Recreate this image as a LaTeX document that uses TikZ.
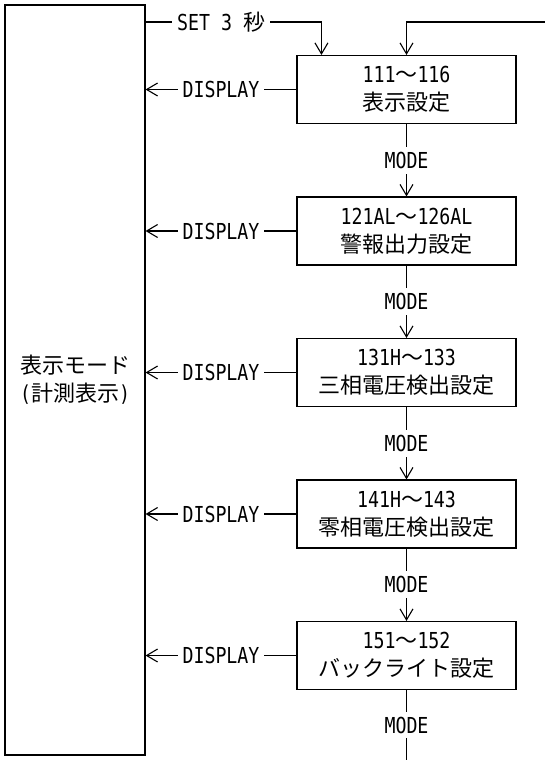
\documentclass[tikz,border=0pt]{standalone}
\usepackage{fontspec}
\setmainfont{DejaVu Sans Mono}[FakeStretch=0.83]
\newfontfamily\jpfont{Noto Sans CJK JP}
\newcommand{\ja}[1]{{\jpfont #1}}
\usetikzlibrary{positioning,chains,arrows.meta}

\begin{document}
\begin{tikzpicture}[%
    x=1pt, y=1pt,
    >={Straight Barb[length=11pt,width=13pt]}, % open V arrows
    start chain=going below,    % setting boxes run top-to-bottom
    node distance=141.5pt,      % box centre to box centre
    font=\fontsize{22}{28}\selectfont,
    line width=1.1pt,
    ]
\tikzset{
  base/.style={draw, on grid, on chain, align=center},
  setbox/.style={base, rectangle, minimum width=219pt, minimum height=68pt, inner sep=0pt},
  modebox/.style={draw, rectangle, minimum width=140pt, minimum height=750pt, align=center},
  lbl/.style={fill=white, inner sep=5pt},
}

\useasboundingbox (0,0) rectangle (545,-760);

\node [modebox] (disp) at (75,-380) {\ja{表示モード}\\(\ja{計測表示})};

\node [setbox] (s1) at (406.5,-89.5) {111\ja{～}116\\\ja{表示設定}};
\node [setbox] (s2) {121AL\ja{～}126AL\\\ja{警報出力設定}};
\node [setbox] (s3) {131H\ja{～}133\\\ja{三相電圧検出設定}};
\node [setbox] (s4) {141H\ja{～}143\\\ja{零相電圧検出設定}};
\node [setbox] (s5) {151\ja{～}152\\\ja{バックライト設定}};

\coordinate (setc) at ([xshift=25pt]s1.north west);
\coordinate (ret) at (545,-22);
\coordinate (endc) at (s1.center |- 0,-760);

%connect
\draw [->] (disp.east |- ret) -- node[lbl,pos=0.43] {SET 3 \ja{秒}} (setc |- ret) -- (setc);
\draw [->] (ret) -| (s1.north);

\draw [->] (s1.west) -- node[lbl] {DISPLAY} (s1.west -| disp.east);
\draw [->] (s2.west) -- node[lbl] {DISPLAY} (s2.west -| disp.east);
\draw [->] (s3.west) -- node[lbl] {DISPLAY} (s3.west -| disp.east);
\draw [->] (s4.west) -- node[lbl] {DISPLAY} (s4.west -| disp.east);
\draw [->] (s5.west) -- node[lbl] {DISPLAY} (s5.west -| disp.east);

\draw [->] (s1.south) -- node[lbl] {MODE} (s2.north);
\draw [->] (s2.south) -- node[lbl] {MODE} (s3.north);
\draw [->] (s3.south) -- node[lbl] {MODE} (s4.north);
\draw [->] (s4.south) -- node[lbl] {MODE} (s5.north);
\draw (s5.south) -- node[lbl] {MODE} (endc);

\end{tikzpicture}
\end{document}
